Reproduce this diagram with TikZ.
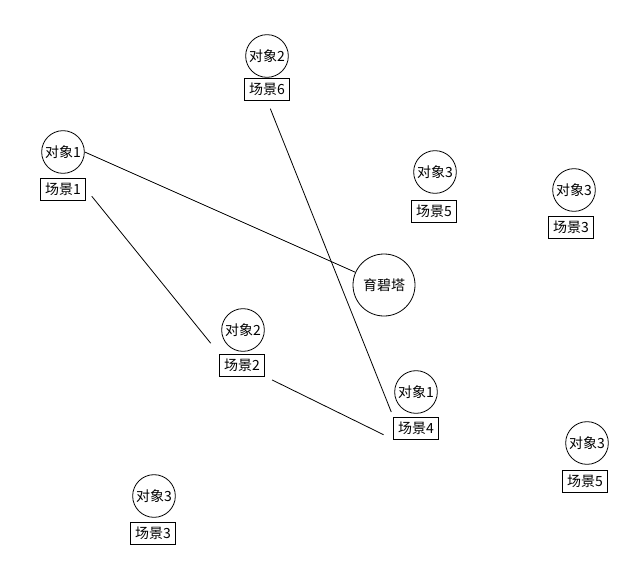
\documentclass[tikz,border=0pt]{standalone}
\usepackage{fontspec}
\setmainfont{Noto Sans CJK SC}
\usepackage{tikz}

\tikzset{
    objnode/.style={circle, draw, minimum size=32pt, inner sep=0pt, font=\fontsize{10.5}{12}\selectfont},
    scnbox/.style={draw, minimum width=33.75pt, minimum height=16.5pt, inner sep=1pt, font=\fontsize{10.5}{12}\selectfont},
    link/.style={line width=0.6pt}
}

\begin{document}
\begin{tikzpicture}[x=0.75pt, y=-0.75pt, line width=0.6pt]
            \useasboundingbox (0,0) rectangle (634,581);

            % Objects
            \node[objnode] (o1) at (63,152) {对象1};
            \node[scnbox] (s1) at (63,189) {场景1};

            \node[objnode] (o2) at (267,56) {对象2};
            \node[scnbox] (s6) at (267,89) {场景6};

            \node[objnode] (o3) at (435,172) {对象3};
            \node[scnbox] (s5a) at (434,211) {场景5};

            \node[objnode] (o4) at (574,190) {对象3};
            \node[scnbox] (s3a) at (571,227) {场景3};

            \node[objnode] (o5) at (243,330) {对象2};
            \node[scnbox] (s2) at (242,365) {场景2};

            \node[objnode] (o6) at (416,392) {对象1};
            \node[scnbox] (s4) at (416,428) {场景4};

            \node[objnode] (o7) at (587,443) {对象3};
            \node[scnbox] (s5b) at (585,481) {场景5};

            \node[objnode] (o8) at (154,496) {对象3};
            \node[scnbox] (s3b) at (153,533) {场景3};

            % Tower
            \node[objnode, minimum size=46.5pt] (tower) at (384,285) {育碧塔};

            % Links
            \draw[link] (o1.east) -- (tower);
            \draw[link, shorten <=6.7pt, shorten >=3.7pt] (s6.south) -- (s4.north west);
            \draw[link, shorten <=7pt, shorten >=10pt] (s1.east) -- (s2.north west);
            \draw[link, shorten <=6pt, shorten >=8pt] (s2.south east) -- (s4.south west);
        \end{tikzpicture}
\end{document}
